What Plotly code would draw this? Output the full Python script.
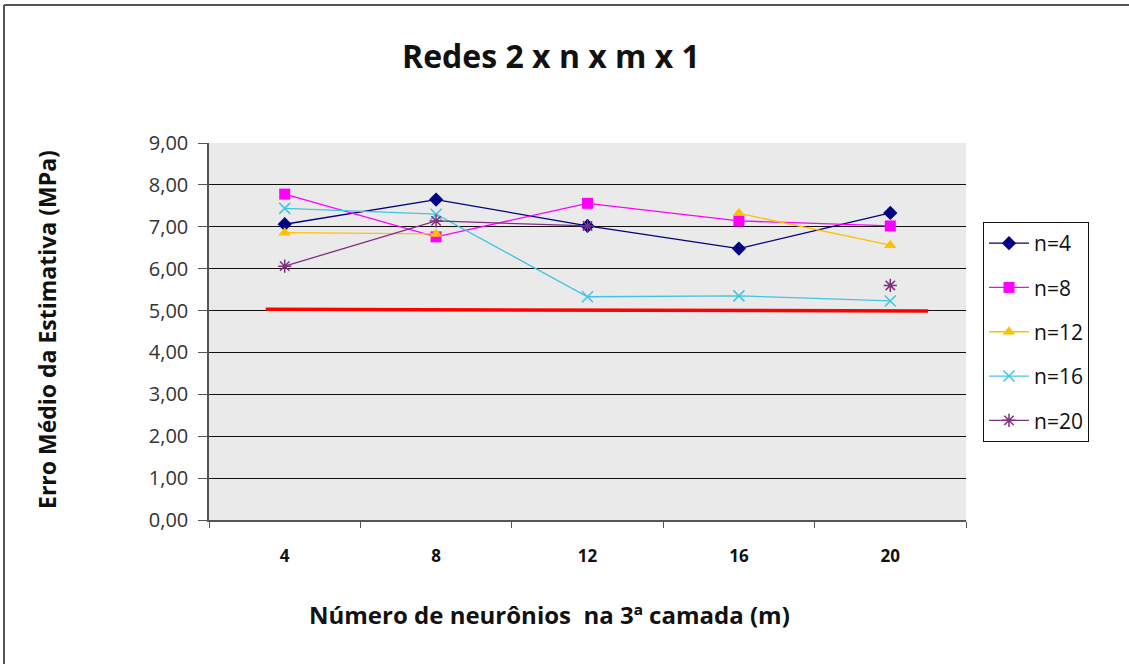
import plotly.graph_objects as go

# Data
m_vals = [4, 8, 12, 16, 20]
n4 = [7.06, 7.65, 7.02, 6.48, 7.33]
n8 = [7.78, 6.76, 7.56, 7.14, 7.02]
n12 = [6.86, 6.83, None, 7.32, 6.56]
n16 = [7.44, 7.30, 5.33, 5.35, 5.23]
n20 = [6.06, 7.14, 7.02, None, 5.60]
ref_x = [3.5, 21]
ref_y = [5.03, 4.99]

series = [
    ("n=4", n4, "#000080", "diamond", 11, 1.3),
    ("n=8", n8, "#FF00FF", "square", 11, 1.3),
    ("n=12", n12, "#FFC000", "triangle-up", 11, 1.3),
    ("n=16", n16, "#40C4E4", "x-thin", 11, 1.3),
    ("n=20", n20, "#7F2F80", "asterisk", 11, 1.3),
]

FONT = "Open Sans"
fig = go.Figure()

fig.add_trace(go.Scatter(x=ref_x, y=ref_y, mode="lines",
                         line=dict(color="#FF0000", width=3.5),
                         showlegend=False, hoverinfo="skip"))

for name, ys, col, sym, sz, lw in series:
    if sym in ("x-thin", "asterisk"):
        marker = dict(symbol=sym, size=sz, color=col, line=dict(color=col, width=1.5))
    else:
        marker = dict(symbol=sym, size=sz, color=col, line=dict(width=0))
    fig.add_trace(go.Scatter(x=m_vals, y=ys, name=name, mode="lines+markers",
                             line=dict(color=col, width=lw), marker=marker,
                             connectgaps=False, legendgroup=name))

L, R, T, B = 209, 163, 143, 144
W, H = 1129, 664
pw, ph = W - L - R, H - T - B

def px(x):
    return (x - L) / pw

def py(y):
    return (H - B - y) / ph

fig.update_layout(
    width=W, height=H,
    margin=dict(l=L, r=R, t=T, b=B),
    paper_bgcolor="white",
    plot_bgcolor="#EAEAEA",
    separators=",.",
    font=dict(family=FONT, color="#222"),
    title=dict(text="<b>Redes 2 x n x m x 1</b>", x=px(551), xref="paper", xanchor="center",
               y=1 - 57 / H, yanchor="middle",
               font=dict(family=FONT, size=32, color="#111")),
    showlegend=True,
    legend=dict(x=px(983), y=py(222), xanchor="left", yanchor="top",
                bordercolor="#111", borderwidth=1, bgcolor="white",
                font=dict(family=FONT, size=21, color="#111"),
                tracegroupgap=14, itemwidth=40),
    xaxis=dict(range=[2, 22], tickvals=m_vals, ticktext=[str(v) for v in m_vals],
               ticks="", showgrid=False, zeroline=False,
               showline=True, linecolor="#555", linewidth=1.5,
               minor=dict(tick0=2, dtick=4, ticks="outside", ticklen=6,
                          tickcolor="#555", showgrid=False),
               ticklabelstandoff=20,
               tickfont=dict(family=FONT, size=17, color="#111", weight="bold")),
    yaxis=dict(range=[0, 9], dtick=1, tickformat=".2f",
               showgrid=True, gridcolor="#111", gridwidth=1.2, zeroline=False,
               ticks="outside", ticklen=9, tickcolor="#555",
               showline=True, linecolor="#555", linewidth=1.5,
               ticklabelstandoff=6,
               tickfont=dict(family=FONT, size=20, color="#333")),
    annotations=[
        dict(text="<b>Número de neurônios  na 3ª camada (m)</b>", xref="paper", yref="paper",
             x=px(549), y=py(614), xanchor="center", yanchor="middle", showarrow=False,
             font=dict(family=FONT, size=24, color="#111")),
        dict(text="<b>Erro Médio da Estimativa (MPa)</b>", xref="paper", yref="paper",
             x=px(47), y=py(330), xanchor="center", yanchor="middle", showarrow=False,
             textangle=-90, font=dict(family=FONT, size=23, color="#111")),
    ],
    shapes=[
        dict(type="line", xref="paper", yref="paper", x0=px(4), x1=px(4),
             y0=py(5), y1=py(H), line=dict(color="#555", width=2)),
        dict(type="line", xref="paper", yref="paper", x0=px(4), x1=px(W),
             y0=py(5), y1=py(5), line=dict(color="#555", width=2)),
    ],
)

fig.write_html("out.html", config={"displayModeBar": False},
               post_script="document.body.style.margin='0';document.body.style.overflow='hidden';")
